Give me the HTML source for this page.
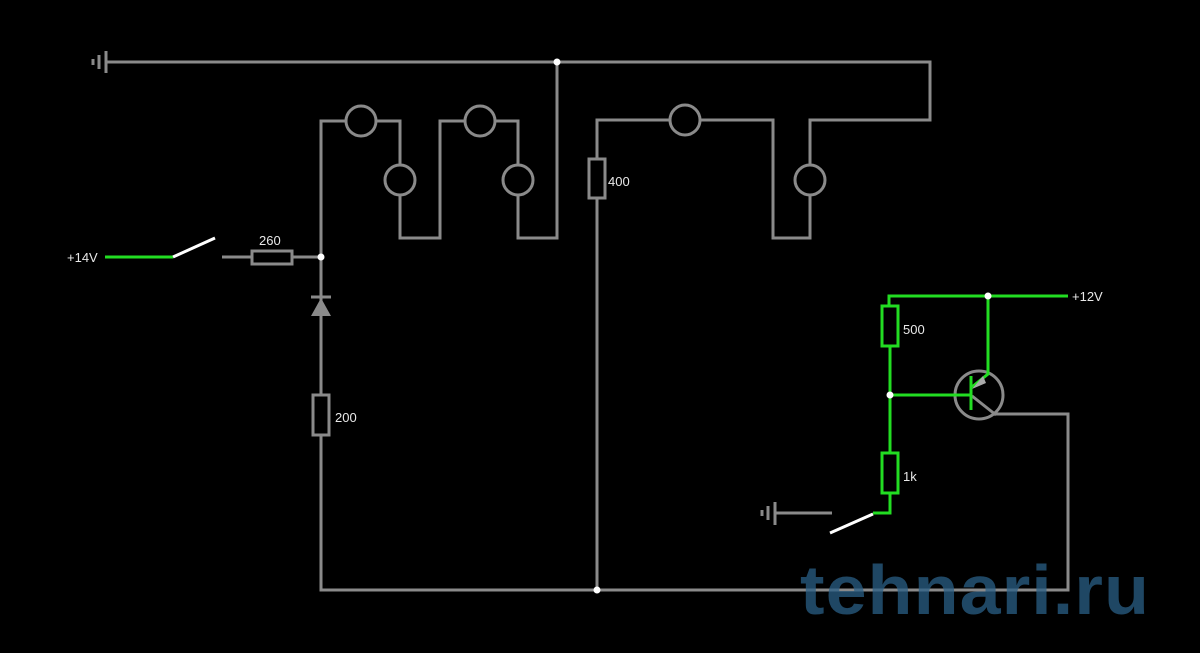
<!DOCTYPE html>
<html><head><style>
html,body{margin:0;padding:0;background:#000;width:1200px;height:653px;overflow:hidden}
svg{display:block}
text{font-family:"Liberation Sans",sans-serif;}
</style></head><body>
<svg width="1200" height="653" viewBox="0 0 1200 653">
<g fill="none" stroke="#8a8a8a" stroke-width="3">
 <line x1="106" y1="51" x2="106" y2="73"/><line x1="99" y1="55" x2="99" y2="69"/><line x1="93" y1="59" x2="93" y2="65"/>
 <polyline points="106,62 930,62 930,120 810,120 810,165"/>
 <polyline points="810,195 810,238 773,238 773,120 700,120"/>
 <polyline points="670,120 597,120 597,160"/>
 <rect x="589" y="159" width="16" height="39"/>
 <line x1="597" y1="198" x2="597" y2="590"/>
 <circle cx="810" cy="180" r="15"/>
 <circle cx="685" cy="120" r="15"/>
 <polyline points="557,62 557,238 518,238 518,195"/>
 <circle cx="518" cy="180" r="15"/>
 <polyline points="518,165 518,121 495,121"/>
 <circle cx="480" cy="121" r="15"/>
 <polyline points="465,121 440,121 440,238 400,238 400,195"/>
 <circle cx="400" cy="180" r="15"/>
 <polyline points="400,165 400,121 376,121"/>
 <circle cx="361" cy="121" r="15"/>
 <polyline points="346,121 321,121 321,395"/>
 <line x1="222" y1="257" x2="252" y2="257"/>
 <rect x="252" y="251" width="40" height="13"/>
 <line x1="292" y1="257" x2="321" y2="257"/>
 <line x1="311" y1="297" x2="331" y2="297"/>
 <rect x="313" y="395" width="16" height="40"/>
 <polyline points="321,435 321,590 1068,590 1068,414 995,414"/>
 <circle cx="979" cy="395" r="24"/>
 <line x1="972" y1="396" x2="996" y2="415"/>
 <line x1="775" y1="513" x2="832" y2="513"/>
 <line x1="775" y1="502" x2="775" y2="525"/><line x1="768" y1="506" x2="768" y2="520"/><line x1="762" y1="510" x2="762" y2="516"/>
</g>
<polygon points="321,298 311,316 331,316" fill="#8a8a8a"/>
<g fill="none" stroke="#22dd22" stroke-width="3">
 <line x1="105" y1="257" x2="173" y2="257"/>
 <polyline points="1068,296 889,296 889,306"/>
 <rect x="882" y="306" width="16" height="40"/>
 <line x1="890" y1="346" x2="890" y2="453"/>
 <rect x="882" y="453" width="16" height="40"/>
 <polyline points="890,493 890,513 873,513"/>
 <line x1="890" y1="395" x2="971" y2="395"/>
 <line x1="971" y1="376" x2="971" y2="410"/>
 <polyline points="988,296 988,374 972,387"/>
</g>
<polygon points="972,389 983,376 986,383" fill="#aaa"/>
<g stroke="#fff" stroke-width="3">
 <line x1="173" y1="257" x2="215" y2="238"/>
 <line x1="873" y1="514" x2="830" y2="533"/>
</g>
<g fill="#fff">
 <circle cx="557" cy="62" r="3.5"/><circle cx="321" cy="257" r="3.5"/>
 <circle cx="597" cy="590" r="3.5"/><circle cx="988" cy="296" r="3.5"/><circle cx="890" cy="395" r="3.5"/>
</g>
<g fill="#e8e8e8" font-size="13">
 <text x="67" y="262">+14V</text>
 <text x="259" y="245">260</text>
 <text x="608" y="186">400</text>
 <text x="335" y="422">200</text>
 <text x="903" y="334">500</text>
 <text x="903" y="481">1k</text>
 <text x="1072" y="301">+12V</text>
</g>
<text x="800" y="614" font-size="70" font-weight="bold" fill="#2a5f86" fill-opacity="0.75" letter-spacing="1" textLength="350" lengthAdjust="spacingAndGlyphs">tehnari.ru</text>
</svg>
</body></html>
